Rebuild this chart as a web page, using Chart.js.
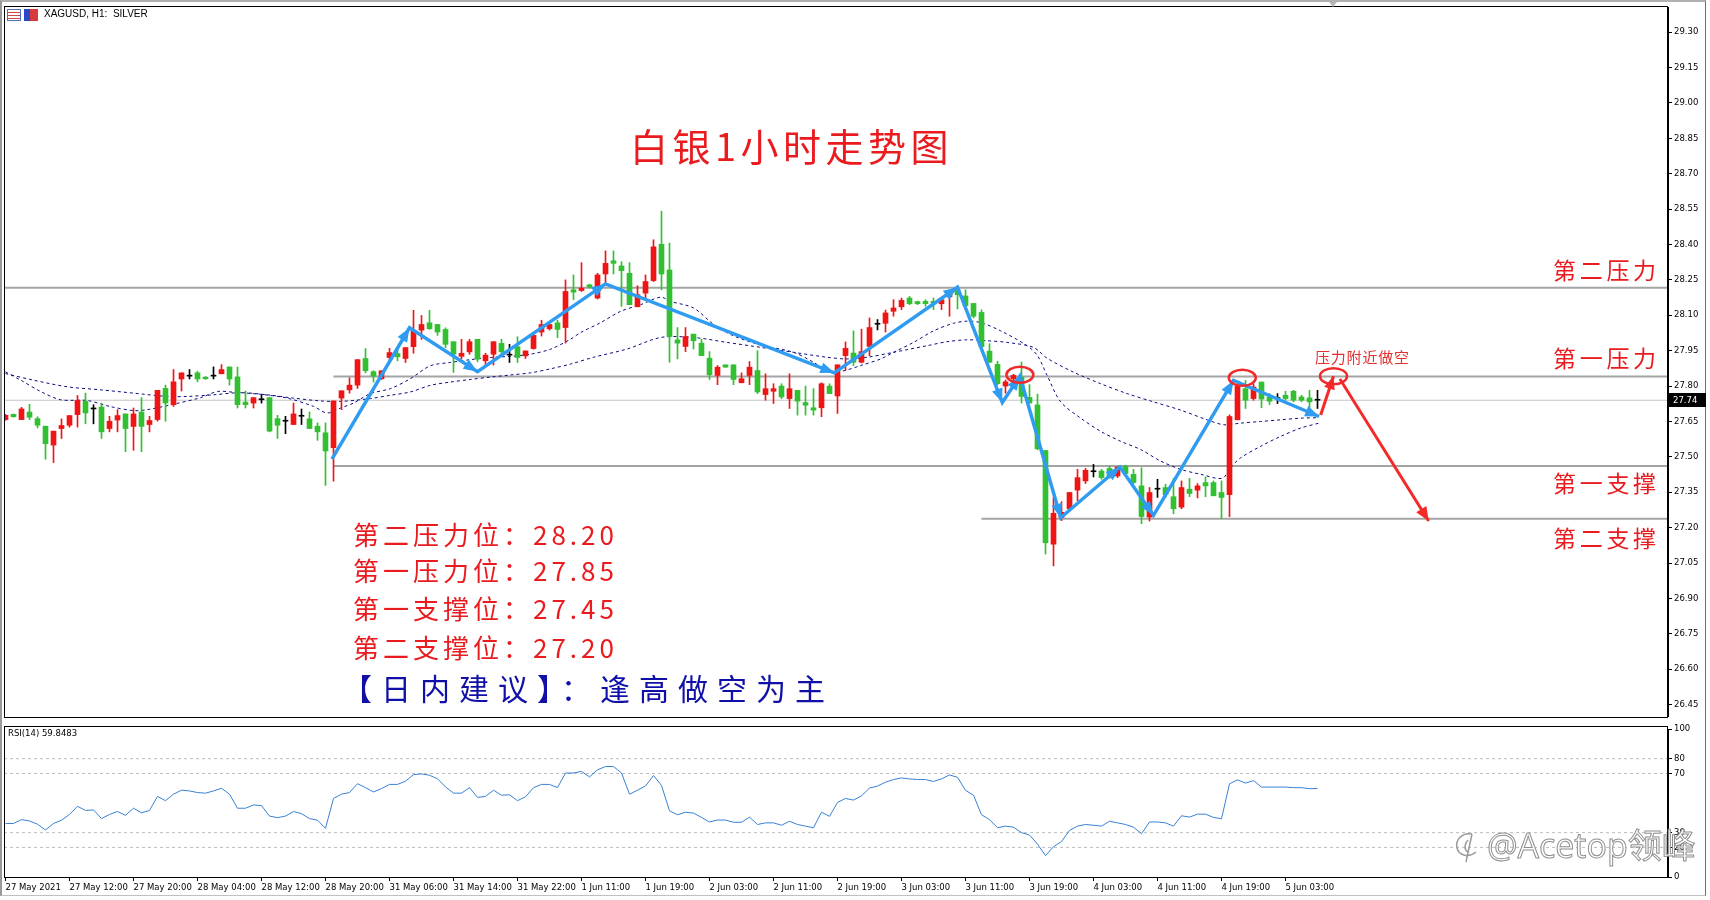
<!DOCTYPE html>
<html><head><meta charset="utf-8">
<script src="https://cdn.jsdelivr.net/npm/chart.js@4.4.0/dist/chart.umd.min.js"></script>
<style>
html,body{margin:0;padding:0;background:#fff;}
#wrap{position:relative;width:1710px;height:900px;overflow:hidden;background:#fff;}
#frame{position:absolute;left:0;top:0;width:1706px;height:896px;border-top:2px solid #b0b0b0;border-left:2px solid #9a9a9a;border-right:1px solid #707070;border-bottom:1px solid #c0c0c0;box-sizing:border-box;}
canvas{position:absolute;left:0;}
#c1{top:0;}
#c2{top:722px;}
.t{position:absolute;white-space:pre;line-height:1;}
.cn{font-family:"Noto Sans CJK SC","Noto Sans",sans-serif;}
.red{color:#ea1b1f;}
.ax{font-family:"DejaVu Sans",sans-serif;font-size:8.5px;color:#000;}
</style></head>
<body><div id="wrap">
<div id="frame"></div>
<canvas id="c1" width="1710" height="724" style="width:1710px;height:724px"></canvas>
<canvas id="c2" width="1710" height="178" style="width:1710px;height:178px"></canvas>

<!-- header -->
<div style="position:absolute;left:7px;top:9px;width:12px;height:10px;border:1px solid #5a6fc0;background:repeating-linear-gradient(#fff 0 2px,#d04848 2px 3px);"></div>
<div style="position:absolute;left:24px;top:9px;width:6px;height:12px;background:#2a48c8;"></div>
<div style="position:absolute;left:30px;top:9px;width:8px;height:12px;background:#d63a3a;"></div>
<div class="t" style="left:44px;top:9px;font-family:'Liberation Sans',sans-serif;font-size:10px;color:#000;">XAGUSD, H1:  SILVER</div>
<div style="position:absolute;left:1329px;top:2px;width:0;height:0;border-left:4px solid transparent;border-right:4px solid transparent;border-top:5px solid #b8b8b8;"></div>

<!-- title -->
<div class="t cn red" style="left:630px;top:126px;font-size:38px;letter-spacing:4.5px;">白银1小时走势图</div>
<div class="t cn" style="left:1315px;top:349px;font-size:15px;letter-spacing:0.8px;color:#e53030;">压力附近做空</div>

<div class="t cn red" style="left:1553px;top:258px;font-size:23px;letter-spacing:3.7px;">第二压力</div>
<div class="t cn red" style="left:1553px;top:346px;font-size:23px;letter-spacing:3.7px;">第一压力</div>
<div class="t cn red" style="left:1553px;top:471px;font-size:23px;letter-spacing:3.7px;">第一支撑</div>
<div class="t cn red" style="left:1553px;top:526px;font-size:23px;letter-spacing:3.7px;">第二支撑</div>

<div class="t cn red" style="left:353px;top:521px;font-size:26px;letter-spacing:4px;">第二压力位：28.20</div>
<div class="t cn red" style="left:353px;top:557px;font-size:26px;letter-spacing:4px;">第一压力位：27.85</div>
<div class="t cn red" style="left:353px;top:595px;font-size:26px;letter-spacing:4px;">第一支撑位：27.45</div>
<div class="t cn red" style="left:353px;top:634px;font-size:26px;letter-spacing:4px;">第二支撑位：27.20</div>
<div class="t cn" style="left:342px;top:672px;font-size:30px;letter-spacing:9px;color:#1010a8;">【日内建议】：逢高做空为主</div>

<div class="t ax" style="left:8px;top:729px;">RSI(14) 59.8483</div>

<!-- watermark -->
<svg style="position:absolute;left:1452px;top:828px;" width="32" height="36" viewBox="0 0 32 36">
<path d="M20 6 C10 4 3 12 5 20 C7 28 17 30 24 24 M16 12 C12 16 12 22 16 24 M20 6 L14 34" fill="none" stroke="#9a9a9a" stroke-width="1.5"/>
</svg>
<div class="t" style="left:1487px;top:828px;font-family:'Open Sans','Noto Sans CJK SC',sans-serif;font-size:34px;color:rgba(255,255,255,0.9);-webkit-text-stroke:1px #8f8f8f;z-index:5;">@Acetop领峰</div>
</div>

<script>
// ---------------- data ----------------
const dateLabels = ['27 May 2021','27 May 12:00','27 May 20:00','28 May 04:00','28 May 12:00','28 May 20:00','31 May 06:00','31 May 14:00','31 May 22:00','1 Jun 11:00','1 Jun 19:00','2 Jun 03:00','2 Jun 11:00','2 Jun 19:00','3 Jun 03:00','3 Jun 11:00','3 Jun 19:00','4 Jun 03:00','4 Jun 11:00','4 Jun 19:00','5 Jun 03:00'];
const priceTicks = [26.45,26.60,26.75,26.90,27.05,27.20,27.35,27.50,27.65,27.80,27.95,28.10,28.25,28.40,28.55,28.70,28.85,29.00,29.15,29.30];
const rsiTicks = [0,20,30,70,80,100];
const rsiLevels = [80,70,30,20];

const openP = [27.658,27.680,27.658,27.690,27.662,27.630,27.550,27.620,27.634,27.679,27.735,27.703,27.711,27.620,27.656,27.682,27.629,27.690,27.637,27.658,
27.790,27.721,27.830,27.842,27.856,27.838,27.842,27.852,27.881,27.839,27.732,27.728,27.742,27.751,27.662,27.651,27.637,27.672,27.661,27.630,
27.602,27.539,27.749,27.784,27.804,27.917,27.861,27.831,27.921,27.938,27.917,27.967,28.037,28.068,28.061,28.040,27.988,27.926,27.945,27.998,
27.907,27.935,27.981,27.931,27.967,27.928,27.959,28.029,28.043,28.068,28.048,28.208,28.205,28.229,28.173,28.275,28.331,28.309,28.278,28.136,
28.194,28.247,28.401,28.292,27.996,27.968,28.020,27.982,27.918,27.845,27.890,27.890,27.814,27.845,27.866,27.764,27.778,27.800,27.747,27.782,
27.730,27.708,27.708,27.800,27.758,27.929,27.940,27.901,27.968,28.062,28.066,28.117,28.136,28.173,28.158,28.159,28.159,28.149,28.178,28.208,
28.182,28.150,28.112,27.948,27.892,27.800,27.831,27.838,27.752,27.720,27.527,27.130,27.242,27.280,27.359,27.398,27.437,27.440,27.451,27.419,
27.461,27.426,27.377,27.245,27.363,27.370,27.331,27.287,27.363,27.359,27.391,27.391,27.349,27.340,27.657,27.789,27.747,27.817,27.754,27.747,
27.761,27.778,27.754,27.750,27.740];
const highP = [27.680,27.682,27.710,27.723,27.670,27.630,27.609,27.661,27.675,27.760,27.770,27.721,27.728,27.672,27.700,27.682,27.707,27.751,27.672,27.782,
27.804,27.870,27.856,27.870,27.863,27.840,27.881,27.891,27.881,27.881,27.779,27.751,27.763,27.751,27.676,27.672,27.728,27.703,27.690,27.644,
27.644,27.737,27.780,27.835,27.912,27.959,27.865,27.865,27.960,27.956,27.963,28.121,28.099,28.121,28.061,28.047,27.988,27.998,27.998,27.998,
27.939,27.988,27.998,27.977,28.009,27.949,28.019,28.079,28.065,28.079,28.250,28.271,28.323,28.232,28.278,28.373,28.373,28.327,28.323,28.225,
28.271,28.420,28.541,28.406,28.048,28.048,28.020,27.999,27.946,27.887,27.890,27.890,27.856,27.904,27.950,27.852,27.810,27.810,27.852,27.782,
27.800,27.789,27.814,27.810,27.890,27.987,28.034,28.041,28.089,28.082,28.122,28.166,28.173,28.180,28.160,28.166,28.173,28.173,28.201,28.225,
28.208,28.150,28.123,27.980,27.905,27.826,27.850,27.902,27.806,27.766,27.527,27.328,27.310,27.349,27.447,27.451,27.468,27.447,27.461,27.457,
27.465,27.447,27.454,27.370,27.405,27.384,27.409,27.398,27.409,27.387,27.415,27.398,27.398,27.678,27.817,27.824,27.810,27.817,27.768,27.768,
27.778,27.782,27.761,27.782,27.782];
const lowP = [27.655,27.668,27.658,27.658,27.623,27.490,27.476,27.578,27.626,27.626,27.640,27.640,27.578,27.606,27.606,27.522,27.528,27.522,27.606,27.651,
27.651,27.714,27.779,27.830,27.818,27.828,27.830,27.852,27.804,27.707,27.707,27.707,27.728,27.606,27.578,27.598,27.637,27.637,27.620,27.570,
27.379,27.397,27.700,27.770,27.790,27.856,27.817,27.828,27.900,27.907,27.900,27.939,27.998,28.040,28.015,27.963,27.858,27.914,27.935,27.903,
27.889,27.889,27.931,27.900,27.900,27.917,27.956,28.012,28.037,28.005,27.982,28.166,28.201,28.215,28.169,28.236,28.275,28.138,28.145,28.136,
28.173,28.243,28.208,27.901,27.915,27.946,27.957,27.929,27.828,27.806,27.880,27.806,27.814,27.806,27.768,27.740,27.726,27.747,27.705,27.677,
27.677,27.677,27.670,27.768,27.684,27.866,27.887,27.898,27.929,28.038,28.029,28.096,28.124,28.145,28.145,28.138,28.124,28.124,28.096,28.127,
28.131,28.089,27.957,27.900,27.805,27.770,27.820,27.728,27.728,27.530,27.088,27.038,27.230,27.276,27.314,27.387,27.415,27.405,27.409,27.412,
27.426,27.387,27.217,27.228,27.328,27.328,27.259,27.280,27.331,27.326,27.331,27.335,27.238,27.247,27.657,27.705,27.740,27.708,27.722,27.726,
27.740,27.733,27.733,27.705,27.705];
const closeP = [27.676,27.670,27.703,27.668,27.634,27.556,27.609,27.633,27.675,27.739,27.686,27.703,27.606,27.651,27.675,27.620,27.682,27.629,27.654,27.782,
27.728,27.818,27.856,27.842,27.830,27.831,27.842,27.870,27.830,27.721,27.721,27.751,27.742,27.609,27.634,27.651,27.682,27.672,27.620,27.606,
27.525,27.737,27.780,27.804,27.912,27.865,27.842,27.865,27.942,27.924,27.963,28.033,28.061,28.043,28.029,27.977,27.935,27.939,27.988,27.914,
27.931,27.988,27.945,27.931,27.921,27.949,28.015,28.061,28.061,28.040,28.201,28.198,28.215,28.219,28.271,28.320,28.320,28.289,28.145,28.187,
28.243,28.390,28.275,28.010,27.982,28.010,27.992,27.929,27.848,27.880,27.880,27.828,27.831,27.880,27.775,27.789,27.789,27.754,27.789,27.736,
27.719,27.698,27.810,27.768,27.890,27.960,27.901,27.946,28.048,28.062,28.110,28.131,28.163,28.149,28.149,28.149,28.152,28.166,28.194,28.187,
28.140,28.096,27.967,27.901,27.810,27.818,27.845,27.756,27.728,27.534,27.136,27.261,27.265,27.349,27.412,27.443,27.437,27.412,27.415,27.457,
27.429,27.391,27.247,27.349,27.363,27.340,27.280,27.370,27.345,27.377,27.377,27.335,27.328,27.671,27.800,27.740,27.796,27.745,27.736,27.747,
27.747,27.740,27.740,27.733,27.740];

const rsiVals = [36.2,36.2,38.8,37.9,35.7,31.8,36.2,38.4,42.3,47.8,45.0,45.4,39.5,42.3,44.3,41.7,46.5,43.4,45.0,54.5,
51.6,56.0,58.7,58.2,57.1,56.7,58.2,60.0,56.0,46.5,46.5,48.7,48.3,41.2,40.1,41.2,44.3,42.8,39.5,38.4,
32.9,53.1,56.0,57.1,63.1,60.4,57.5,59.8,62.6,62.6,64.8,69.2,69.7,68.8,66.4,60.9,56.7,56.7,60.4,53.8,
54.5,58.7,55.3,55.6,51.6,54.2,60.4,62.6,62.6,60.4,70.3,70.3,71.4,67.7,72.5,74.7,74.7,70.3,56.0,58.7,
61.5,68.6,61.9,44.7,42.1,43.8,43.2,40.3,37.2,38.5,38.5,37.0,37.0,40.5,35.5,36.6,36.6,35.0,37.7,35.5,
34.4,33.3,43.8,41.0,50.4,53.1,52.0,54.9,60.1,61.5,64.1,65.9,67.0,66.3,65.9,65.9,64.6,66.3,69.0,67.4,
58.6,55.3,42.1,38.8,33.3,34.4,33.7,30.0,28.4,22.2,14.5,20.5,24.0,31.5,34.4,35.5,35.0,34.4,37.7,36.6,
35.5,33.7,29.3,37.2,37.2,36.6,34.4,41.4,40.5,42.5,42.5,40.3,39.4,63.0,65.7,63.5,65.2,60.8,60.8,60.8,
60.8,60.4,60.4,59.7,59.85];

// moving averages read at selected bar positions: [bar, price]
const maFast = [[0,27.860],[1.9,27.825],[4.4,27.777],[6.9,27.742],[10.2,27.739],[13,27.714],[16,27.696],[17.7,27.700],[21,27.723],[24.4,27.751],[26.5,27.777],[28.5,27.774],[31.9,27.765],[35.2,27.749],[38.5,27.714],[40.2,27.686],[41.9,27.707],[43.5,27.728],[45.6,27.768],[48.1,27.789],[50.6,27.831],[53.1,27.886],[55.6,27.900],[58.1,27.912],[60.6,27.921],[63.1,27.926],[65.6,27.935],[68.1,27.956],[70.6,27.998],[71.9,28.027],[74.4,28.069],[76.9,28.117],[79.4,28.145],[81.9,28.177],[83.1,28.159],[86,28.131],[88.5,28.062],[91,28.013],[94.4,27.974],[98.5,27.943],[101,27.901],[102.7,27.866],[104.4,27.862],[106.9,27.887],[109.4,27.915],[111,27.943],[113.5,27.985],[116,28.034],[118.5,28.066],[120.2,28.075],[121.9,28.069],[124.4,28.034],[127.7,27.971],[129,27.929],[130.2,27.845],[131.9,27.733],[134.4,27.664],[136.9,27.608],[139.4,27.566],[141.9,27.531],[144.4,27.482],[146.9,27.447],[149.4,27.426],[152.1,27.409],[153.1,27.454],[154.4,27.496],[156.9,27.545],[159.4,27.587],[161.9,27.622],[164.2,27.643]];
const maSlow = [[0,27.853],[3.5,27.825],[7.7,27.797],[11.9,27.784],[16,27.770],[20.2,27.756],[22.7,27.756],[26,27.763],[29.4,27.772],[32.7,27.763],[36,27.749],[39.4,27.737],[41.9,27.735],[45.6,27.747],[48.1,27.761],[50.6,27.775],[53.1,27.803],[55.6,27.817],[58.1,27.828],[60.6,27.838],[63.1,27.847],[65.6,27.856],[68.1,27.873],[70.6,27.893],[73.5,27.922],[77.7,27.957],[81.9,28.006],[86,28.006],[90.2,27.985],[94.4,27.964],[98.5,27.943],[102.7,27.922],[105.2,27.915],[107.7,27.922],[111,27.943],[115.2,27.971],[117.7,27.988],[120.2,27.996],[122.7,27.992],[125.2,27.985],[128.5,27.964],[130.2,27.918],[133.5,27.859],[136.9,27.810],[140.2,27.768],[143.5,27.733],[146.9,27.698],[150.2,27.657],[152.3,27.636],[154.4,27.643],[156.9,27.650],[159.4,27.657],[161.9,27.664],[164.2,27.666]];

// hand-drawn trend path
const trendX = [40.8,50.5,59.0,75.0,103.6,119.0,124.6,126.8,131.9,139.3,143.5,153.5,164.2];
const trendY = [27.49,28.047,27.861,28.233,27.856,28.219,27.730,27.842,27.242,27.457,27.252,27.824,27.671];
const forecastUpX = [164.4,166.0], forecastUpY = [27.677,27.842];
const forecastDownX = [166.8,177.9], forecastDownY = [27.83,27.228];
const circleX = [126.8,154.6,166.0], circleY = [27.848,27.835,27.842];

// horizontal levels
const levelPrice = [28.217,27.841,27.461,27.238];
const levelFrom = [-0.2,41,41,122];
const currentPrice = 27.74;

// ---------------- chart ----------------
const xMin = -0.1875, xMax = 207.8125;
const UP = '#f01414', DOWN = '#32c032', DOJI = '#000000';
const candleColor = openP.map((o,i)=> closeP[i] > o ? UP : (closeP[i] < o ? DOWN : DOJI));
const pts = (xs, ys) => xs.map((v,i)=>({x:v, y:ys[i]}));

function arrowHead(ctx, x1, y1, x2, y2, color, len, half){
  const a = Math.atan2(y2-y1, x2-x1);
  ctx.beginPath();
  ctx.moveTo(x2, y2);
  ctx.lineTo(x2 - len*Math.cos(a) + half*Math.sin(a), y2 - len*Math.sin(a) - half*Math.cos(a));
  ctx.lineTo(x2 - len*Math.cos(a) - half*Math.sin(a), y2 - len*Math.sin(a) + half*Math.cos(a));
  ctx.closePath();
  ctx.fillStyle = color; ctx.fill();
}

const framePlugin = {
  id:'frame',
  afterDraw(chart){
    const {ctx, chartArea:a} = chart;
    const top = chart.canvas.id === 'c2' ? a.top - 2 : a.top;
    ctx.save(); ctx.strokeStyle = '#000'; ctx.lineWidth = 1;
    ctx.strokeRect(Math.round(a.left)+0.5, Math.round(top)-0.5, Math.round(a.right-a.left)-1, Math.round(a.bottom-top)+1);
    ctx.restore();
  }
};

const overlayPlugin = {
  id:'overlay',
  afterDatasetsDraw(chart){
    const {ctx, scales:{x,y}} = chart;
    ctx.save();
    for (let i=1;i<trendX.length;i++){
      arrowHead(ctx, x.getPixelForValue(trendX[i-1]), y.getPixelForValue(trendY[i-1]), x.getPixelForValue(trendX[i]), y.getPixelForValue(trendY[i]), '#2f9cf2', 14, 5.5);
    }
    arrowHead(ctx, x.getPixelForValue(forecastUpX[0]), y.getPixelForValue(forecastUpY[0]), x.getPixelForValue(forecastUpX[1]), y.getPixelForValue(forecastUpY[1]), '#f42a2a', 13, 5.5);
    arrowHead(ctx, x.getPixelForValue(forecastDownX[0]), y.getPixelForValue(forecastDownY[0]), x.getPixelForValue(forecastDownX[1]), y.getPixelForValue(forecastDownY[1]), '#f42a2a', 14, 6);
    ctx.strokeStyle = '#f02a2a'; ctx.lineWidth = 2.5;
    circleX.forEach((cx,k)=>{
      ctx.beginPath();
      ctx.ellipse(x.getPixelForValue(cx), y.getPixelForValue(circleY[k]), 13.5, 8, 0, 0, Math.PI*2);
      ctx.stroke();
    });
    ctx.restore();
  },
  afterDraw(chart){
    const {ctx, chartArea:a, scales:{y}} = chart;
    const py = Math.round(y.getPixelForValue(currentPrice));
    ctx.save();
    ctx.fillStyle = '#000';
    ctx.fillRect(a.right+1, py-7, 37, 14);
    ctx.fillStyle = '#fff';
    ctx.font = '8.5px "DejaVu Sans"';
    ctx.textBaseline = 'middle';
    ctx.fillText(currentPrice.toFixed(2), a.right+5, py+0.5);
    ctx.restore();
  }
};

const axisFont = {family:'DejaVu Sans', size:8.5};

const mainDatasets = [
  {type:'line', data: pts(trendX, trendY), borderColor:'#2f9cf2', borderWidth:3.5, pointRadius:0, order:0, borderJoinStyle:'miter'},
  {type:'line', data: pts(forecastUpX, forecastUpY), borderColor:'#f42a2a', borderWidth:3, pointRadius:0, order:0},
  {type:'line', data: pts(forecastDownX, forecastDownY), borderColor:'#f42a2a', borderWidth:3, pointRadius:0, order:0},
  {type:'bar', data: openP.map((o,i)=>({x:i, y:[o, closeP[i]]})), backgroundColor:candleColor, barThickness:5, minBarLength:1, grouped:false, order:1, borderWidth:0},
  {type:'bar', data: openP.map((o,i)=>({x:i, y:[lowP[i], highP[i]]})), backgroundColor:candleColor, barThickness:1, grouped:false, order:2, borderWidth:0},
  {type:'line', data: maFast.map(p=>({x:p[0], y:p[1]})), borderColor:'#0c0c84', borderWidth:1, borderDash:[3,3], pointRadius:0, tension:0.3, order:3},
  {type:'line', data: maSlow.map(p=>({x:p[0], y:p[1]})), borderColor:'#0c0c84', borderWidth:1, borderDash:[3,3], pointRadius:0, tension:0.3, order:3},
  {type:'line', data:[{x:xMin,y:currentPrice},{x:xMax,y:currentPrice}], borderColor:'#c4c4c4', borderWidth:1, pointRadius:0, order:5},
  ...levelPrice.map((p,k)=>({type:'line', data:[{x:levelFrom[k],y:p},{x:xMax,y:p}], borderColor:'#a4a4a4', borderWidth:2, pointRadius:0, order:4}))
];

new Chart(document.getElementById('c1'), {
  type:'bar',
  data:{datasets: mainDatasets},
  options:{
    responsive:false, animation:false, devicePixelRatio:1,
    layout:{padding:{left:4, top:4, right:0, bottom:2}},
    plugins:{legend:{display:false}, tooltip:{enabled:false}},
    scales:{
      x:{type:'linear', min:xMin, max:xMax, display:false, offset:false, grid:{display:false}},
      y:{type:'linear', position:'right', min:26.398, max:29.406,
         afterBuildTicks: s => { s.ticks = priceTicks.map(v=>({value:v})); },
         afterFit: s => { s.width = 42; },
         ticks:{callback: v => Number(v).toFixed(2), font:axisFont, color:'#000', padding:2, autoSkip:false},
         grid:{drawOnChartArea:false, drawTicks:true, tickLength:4, color:'#000'},
         border:{display:true, color:'#000'}}
    }
  },
  plugins:[framePlugin, overlayPlugin]
});

new Chart(document.getElementById('c2'), {
  type:'line',
  data:{datasets:[
    {data: rsiVals.map((v,i)=>({x:i, y:v})), borderColor:'#3a80d2', borderWidth:1, pointRadius:0, order:0},
    ...rsiLevels.map(l=>({data:[{x:xMin,y:l},{x:xMax,y:l}], borderColor:'#bdbdbd', borderWidth:1, borderDash:[3,3], pointRadius:0, order:1}))
  ]},
  options:{
    responsive:false, animation:false, devicePixelRatio:1,
    layout:{padding:{left:4, top:4, right:0, bottom:0}},
    plugins:{legend:{display:false}, tooltip:{enabled:false}},
    scales:{
      x:{type:'linear', min:xMin, max:xMax, offset:false,
         afterBuildTicks: s => { s.ticks = dateLabels.map((_,k)=>({value:k*8})); },
         afterFit: s => { s.height = 23; },
         ticks:{callback: v => dateLabels[Math.round(v/8)], align:'start', maxRotation:0, minRotation:0, autoSkip:false, font:axisFont, color:'#000', padding:2},
         grid:{drawOnChartArea:false, drawTicks:true, tickLength:4, color:'#000'},
         border:{display:true, color:'#000'}},
      y:{type:'linear', position:'right', min:0, max:100,
         afterBuildTicks: s => { s.ticks = rsiTicks.map(v=>({value:v})); },
         afterFit: s => { s.width = 42; },
         ticks:{callback: v => String(v), font:axisFont, color:'#000', padding:2, autoSkip:false},
         grid:{drawOnChartArea:false, drawTicks:true, tickLength:4, color:'#000'},
         border:{display:true, color:'#000'}}
    }
  },
  plugins:[framePlugin]
});
</script>
</body></html>
